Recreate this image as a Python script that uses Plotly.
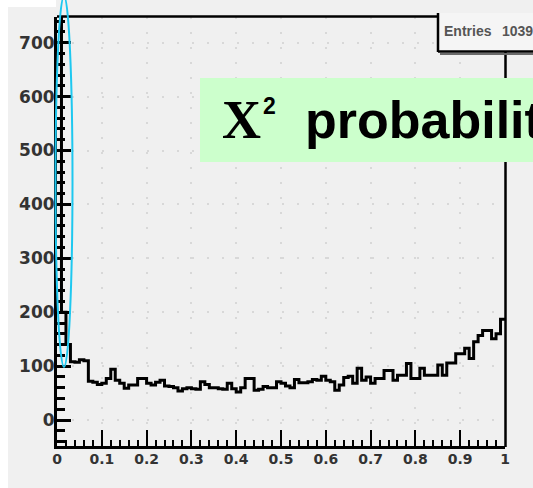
import numpy as np
import plotly.graph_objects as go

# ---- data ----
n_bins = 100
counts = [2350, 200, 140, 108, 107, 112, 110, 72, 70, 66,
          68, 77, 94, 74, 68, 59, 65, 65, 77, 77,
          68, 65, 70, 74, 63, 62, 60, 54, 58, 60,
          58, 57, 71, 66, 60, 60, 58, 57, 68, 58,
          52, 60, 77, 77, 55, 57, 62, 60, 60, 71,
          68, 63, 60, 75, 69, 69, 71, 75, 74, 81,
          74, 71, 55, 65, 79, 81, 68, 96, 74, 80,
          68, 77, 77, 92, 92, 74, 83, 83, 105, 77,
          77, 96, 83, 83, 83, 102, 83, 106, 106, 123,
          123, 133, 114, 145, 157, 166, 166, 151, 160, 187]
x_tickvals = [0, 0.1, 0.2, 0.3, 0.4, 0.5, 0.6, 0.7, 0.8, 0.9, 1]
x_ticktext = ["0", "0.1", "0.2", "0.3", "0.4", "0.5", "0.6", "0.7", "0.8", "0.9", "1"]
y_tickvals = [0, 100, 200, 300, 400, 500, 600, 700]
y_ticktext = ["0", "100", "200", "300", "400", "500", "600", "700"]
title_sym = "X"
title_sup = "2"
title_word = "probability"
stats_label = "Entries"
stats_value = "1039"

edges = np.linspace(0, 1, n_bins + 1)
yvals = list(counts) + [counts[-1]]

# ---- pixel geometry helpers ----
W, H = 533, 488
L, R, T, B = 57, 505, 17, 446


def px(x):
    return (x - L) / (R - L)


def py(y):
    return (B - y) / (B - T)


fig = go.Figure()
fig.add_trace(go.Scatter(x=edges, y=yvals, mode="lines", line_shape="hv",
                         line=dict(color="black", width=3), showlegend=False,
                         hoverinfo="skip"))

shapes = [
    # white strips at the left and top-left
    dict(type="rect", xref="paper", yref="paper", x0=px(-5), x1=px(8), y0=py(-5), y1=py(495),
         fillcolor="white", line_width=0, layer="below"),
    dict(type="rect", xref="paper", yref="paper", x0=px(-5), x1=px(56), y0=py(-5), y1=py(7),
         fillcolor="white", line_width=0, layer="below"),
    # frame top and right
    dict(type="line", xref="paper", yref="paper", x0=px(57), x1=px(438), y0=py(16.5), y1=py(16.5),
         line=dict(color="black", width=2.5), layer="above"),
    dict(type="line", xref="paper", yref="paper", x0=px(505.5), x1=px(505.5), y0=py(52), y1=py(447),
         line=dict(color="black", width=2.5), layer="above"),
    # stats box
    dict(type="rect", xref="paper", yref="paper", x0=px(438), x1=px(540), y0=py(13), y1=py(51.5),
         fillcolor="#f5f5f5", line_width=0, layer="above"),
    dict(type="line", xref="paper", yref="paper", x0=px(438), x1=px(438), y0=py(13), y1=py(52),
         line=dict(color="black", width=2.5), layer="above"),
    dict(type="line", xref="paper", yref="paper", x0=px(438), x1=px(540), y0=py(51.5), y1=py(51.5),
         line=dict(color="black", width=2.5), layer="above"),
    dict(type="line", xref="paper", yref="paper", x0=px(440), x1=px(540), y0=py(54), y1=py(54),
         line=dict(color="#6a6a6a", width=2), layer="above"),
    # green title box
    dict(type="rect", xref="paper", yref="paper", x0=px(200), x1=px(545), y0=py(78), y1=py(162),
         fillcolor="#ccffcc", line_width=0, layer="above"),
    # cyan ellipse
    dict(type="circle", xref="paper", yref="paper", x0=px(55.5), x1=px(72.5), y0=py(-4), y1=py(367),
         line=dict(color="#1ec8f0", width=2), layer="above"),
]

annotations = [
    dict(xref="paper", yref="paper", x=px(220), y=py(120), xanchor="left", yanchor="middle",
         text=title_sym, showarrow=False,
         font=dict(family="Liberation Serif", size=54, color="black", weight="bold")),
    dict(xref="paper", yref="paper", x=px(261), y=py(106), xanchor="left", yanchor="middle",
         text=title_sup, showarrow=False,
         font=dict(family="Liberation Sans", size=23, color="black", weight="bold")),
    dict(xref="paper", yref="paper", x=px(303), y=py(120), xanchor="left", yanchor="middle",
         text=title_word, showarrow=False,
         font=dict(family="Liberation Sans", size=52, color="black", weight="bold")),
    dict(xref="paper", yref="paper", x=px(442), y=py(31), xanchor="left", yanchor="middle",
         text=stats_label, showarrow=False,
         font=dict(family="Liberation Sans", size=14, color="#555555", weight="bold")),
    dict(xref="paper", yref="paper", x=px(500), y=py(31), xanchor="left", yanchor="middle",
         text=stats_value, showarrow=False,
         font=dict(family="Liberation Sans", size=14, color="#555555", weight="bold")),
]

fig.update_layout(
    width=W, height=H,
    margin=dict(l=L, r=W - R, t=T, b=H - B, pad=0),
    paper_bgcolor="#f0f0f0", plot_bgcolor="#f0f0f0",
    shapes=shapes, annotations=annotations,
    showlegend=False,
)
fig.update_xaxes(range=[0, 1], showline=True, linewidth=3, linecolor="black",
                 ticks="inside", ticklen=16, tickwidth=2, tickcolor="black",
                 tickvals=x_tickvals, ticktext=x_ticktext,
                 minor=dict(ticks="inside", ticklen=6, tickwidth=2, tickcolor="black",
                            tick0=0, dtick=0.02, showgrid=False),
                 showgrid=True, gridcolor="#d8d8d8", gridwidth=2, griddash="2px,13px",
                 zeroline=False, ticklabelstandoff=-2,
                 tickfont=dict(family="DejaVu Sans", size=14, color="#333333", weight="bold"))
fig.update_yaxes(range=[-48.2, 747.7], showline=True, linewidth=3, linecolor="black",
                 ticks="inside", ticklen=14, tickwidth=3, tickcolor="black",
                 tickvals=y_tickvals, ticktext=y_ticktext,
                 minor=dict(ticks="inside", ticklen=8, tickwidth=3, tickcolor="black",
                            tick0=0, dtick=20, showgrid=False),
                 showgrid=True, gridcolor="#d8d8d8", gridwidth=2, griddash="2px,13px",
                 zeroline=False, ticklabelstandoff=-4,
                 tickfont=dict(family="DejaVu Sans", size=17, color="#333333", weight="bold"))

fig.write_html("out.html")
